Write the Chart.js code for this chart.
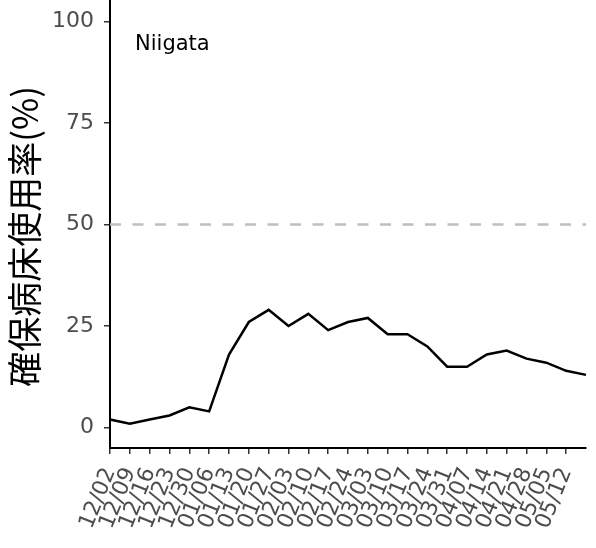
<!DOCTYPE html>
<html>
<head>
<meta charset="utf-8">
<script src="https://cdn.jsdelivr.net/npm/chart.js@4"></script>
<style>
  html, body { margin: 0; padding: 0; background: #fff; }
  #wrap { width: 596px; height: 548px; }
</style>
</head>
<body>
<div id="wrap"><canvas id="myChart" width="596" height="548"></canvas></div>
<script>
// weekly dates (last point has no tick label in the original)
const dates = ['12/02','12/09','12/16','12/23','12/30','01/06','01/13','01/20','01/27',
  '02/03','02/10','02/17','02/24','03/03','03/10','03/17','03/24','03/31',
  '04/07','04/14','04/21','04/28','05/05','05/12','05/19'];
const usageRate = [2,1,2,3,5,4,18,26,29,25,28,24,26,27,23,23,20,15,15,18,19,17,16,14,13];
const yTicks = [0,25,50,75,100];
const refLevel = 50;
const prefName = 'Niigata';
const yTitle = '確保病床使用率(%)';

const latin = '"DejaVu Sans", Verdana, sans-serif';
const cjk = '"Noto Sans CJK JP", "Noto Sans", sans-serif';
const tickGray = '#4d4d4d';

const labelPlugin = {
  id: 'prefLabel',
  afterDatasetsDraw(chart) {
    const ctx = chart.ctx;
    const area = chart.chartArea;
    ctx.save();
    ctx.fillStyle = '#000';
    ctx.font = '21px ' + latin;
    ctx.textBaseline = 'alphabetic';
    ctx.fillText(prefName, area.left + 25, area.top + 49);
    ctx.restore();
  }
};

const myChart = new Chart(document.getElementById('myChart'), {
  type: 'line',
  data: {
    labels: dates,
    datasets: [{
      label: 'ref',
      data: dates.map(() => refLevel),
      borderColor: '#bebebe',
      borderWidth: 2.5,
      borderDash: [11, 11.5],
      pointRadius: 0,
      fill: false
    }, {
      label: prefName,
      data: usageRate,
      borderColor: '#000',
      borderWidth: 2.5,
      pointRadius: 0,
      tension: 0,
      fill: false
    }]
  },
  options: {
    responsive: false,
    animation: false,
    layout: { padding: { top: 1, right: 10, left: 0, bottom: 0 } },
    plugins: { legend: { display: false }, tooltip: { enabled: false } },
    scales: {
      x: {
        offset: false,
        border: { display: true, color: '#000', width: 2 },
        grid: { display: true, drawOnChartArea: false, drawTicks: true, tickLength: 6, color: '#333', lineWidth: 1.5 },
        ticks: {
          autoSkip: false, minRotation: 68, maxRotation: 68,
          color: tickGray, padding: 10,
          font: { family: latin, size: 22 }
        },
        afterBuildTicks(scale) { scale.ticks = scale.ticks.slice(0, dates.length - 1); },
        afterFit(scale) {
          scale.height = 100;
          scale.paddingLeft = 0; scale.paddingRight = 0;
        }
      },
      y: {
        min: -5, max: 105,
        border: { display: true, color: '#000', width: 2 },
        grid: { display: true, drawOnChartArea: false, drawTicks: true, tickLength: 6, color: '#333', lineWidth: 1.5 },
        ticks: { color: tickGray, padding: 10, font: { family: latin, size: 22 } },
        afterBuildTicks(scale) { scale.ticks = yTicks.map(v => ({ value: v })); },
        title: {
          display: true, text: yTitle + '   ', color: '#000',
          font: { family: cjk, size: 35 },
          padding: { top: 4, bottom: 0 }
        },
        afterFit(scale) {
          scale.width = 110;
          scale.paddingTop = 0; scale.paddingBottom = 0;
        }
      }
    }
  },
  plugins: [labelPlugin]
});
</script>
</body>
</html>
